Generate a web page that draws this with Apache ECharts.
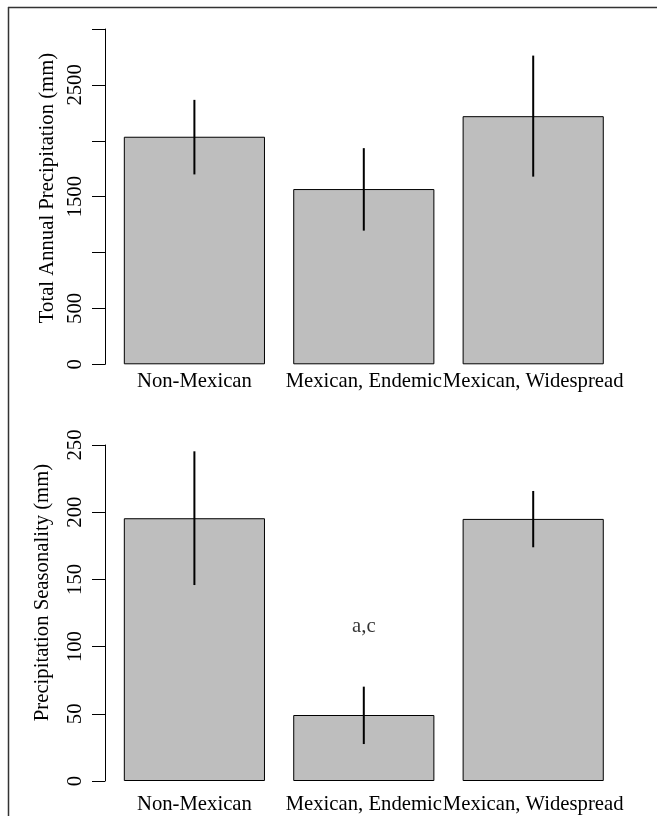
<!DOCTYPE html>
<html>
<head>
<meta charset="utf-8">
<script src="https://cdn.jsdelivr.net/npm/echarts@6/dist/echarts.min.js"></script>
<style>html,body{margin:0;padding:0;background:#fff;}#c{width:657px;height:816px;}</style>
</head>
<body>
<div id="c"></div>
<script>
var categories = ['Non-Mexican', 'Mexican, Endemic', 'Mexican, Widespread'];
var precipMean = [2036, 1568, 2220];
var precipLow = [1699, 1196, 1679];
var precipHigh = [2366, 1934, 2762];
var seasMean = [195.5, 49.1, 195];
var seasLow = [145.8, 27.5, 173.9];
var seasHigh = [245.3, 70.2, 215.8];
var precipTickLabels = ['0', '500', '', '1500', '', '2500', ''];
var seasTickLabels = ['0', '50', '100', '150', '200', '250'];
var annotations = [{cat: 'Mexican, Endemic', value: 115, text: 'a,c'}];
var precipTitle = 'Total Annual Precipitation (mm)';
var seasTitle = 'Precipitation Seasonality (mm)';

var FONT = 'Liberation Serif, Times New Roman, serif';
var FS = 20.7;
var chart = echarts.init(document.getElementById('c'), null, {renderer: 'canvas'});

function errData(low, high) {
  return low.map(function (l, i) { return [i, l, high[i]]; });
}
function errRender(params, api) {
  var p1 = api.coord([api.value(0), api.value(1)]);
  var p2 = api.coord([api.value(0), api.value(2)]);
  return {type: 'line', shape: {x1: p1[0], y1: p1[1], x2: p2[0], y2: p2[1]},
          style: {stroke: '#000', lineWidth: 2}};
}
function yAxisCfg(max, interval, labels) {
  return {
    type: 'value', min: 0, max: max, interval: interval, offset: 4.7,
    axisLine: {show: true, lineStyle: {color: '#000', width: 1}},
    axisTick: {show: true, length: 13, lineStyle: {color: '#000', width: 1}},
    splitLine: {show: false},
    axisLabel: {rotate: 90, fontSize: FS, fontFamily: FONT, color: '#000', margin: 19,
      formatter: function (v) { return labels[Math.round(v / interval)]; }}
  };
}
function xAxisCfg(grid, margin) {
  return {
    type: 'category', gridIndex: grid, data: categories,
    axisLine: {show: false}, axisTick: {show: false},
    axisLabel: {fontSize: FS, fontFamily: FONT, color: '#000', margin: margin, interval: 0}
  };
}

var option = {
  animation: false,
  backgroundColor: '#fff',
  grid: [
    {left: 109.7, width: 508.2, top: 29, height: 335.3},
    {left: 109.7, width: 508.2, top: 445, height: 336}
  ],
  xAxis: [xAxisCfg(0, 7), xAxisCfg(1, 13)],
  yAxis: [
    Object.assign(yAxisCfg(3000, 500, precipTickLabels), {gridIndex: 0}),
    Object.assign(yAxisCfg(250, 50, seasTickLabels), {gridIndex: 1})
  ],
  series: [
    {type: 'bar', xAxisIndex: 0, yAxisIndex: 0, data: precipMean, barCategoryGap: '16.67%',
     itemStyle: {color: '#bebebe', borderColor: '#000', borderWidth: 1}},
    {type: 'custom', xAxisIndex: 0, yAxisIndex: 0, data: errData(precipLow, precipHigh),
     renderItem: errRender, encode: {x: 0, y: [1, 2]}, z: 5},
    {type: 'bar', xAxisIndex: 1, yAxisIndex: 1, data: seasMean, barCategoryGap: '16.67%',
     itemStyle: {color: '#bebebe', borderColor: '#000', borderWidth: 1}},
    {type: 'custom', xAxisIndex: 1, yAxisIndex: 1, data: errData(seasLow, seasHigh),
     renderItem: errRender, encode: {x: 0, y: [1, 2]}, z: 5},
    {type: 'scatter', xAxisIndex: 1, yAxisIndex: 1, symbolSize: 0,
     data: annotations.map(function (a) { return {value: [a.cat, a.value], text: a.text}; }),
     label: {show: true, position: 'inside', fontSize: FS, fontFamily: FONT, color: '#000',
       formatter: function (p) { return p.data.text; }}}
  ],
  graphic: [
    {type: 'text', x: 48, y: 188, rotation: Math.PI / 2,
     style: {text: precipTitle, fontSize: FS, fontFamily: FONT, fill: '#000', align: 'center', verticalAlign: 'middle'}},
    {type: 'text', x: 43, y: 592.5, rotation: Math.PI / 2,
     style: {text: seasTitle, fontSize: FS, fontFamily: FONT, fill: '#000', align: 'center', verticalAlign: 'middle'}},
    {type: 'line', shape: {x1: 8, y1: 7.5, x2: 657, y2: 7.5}, style: {stroke: '#333', lineWidth: 1.5}},
    {type: 'line', shape: {x1: 8.5, y1: 7, x2: 8.5, y2: 816}, style: {stroke: '#333', lineWidth: 1.5}}
  ]
};
chart.setOption(option);
</script>
</body>
</html>
